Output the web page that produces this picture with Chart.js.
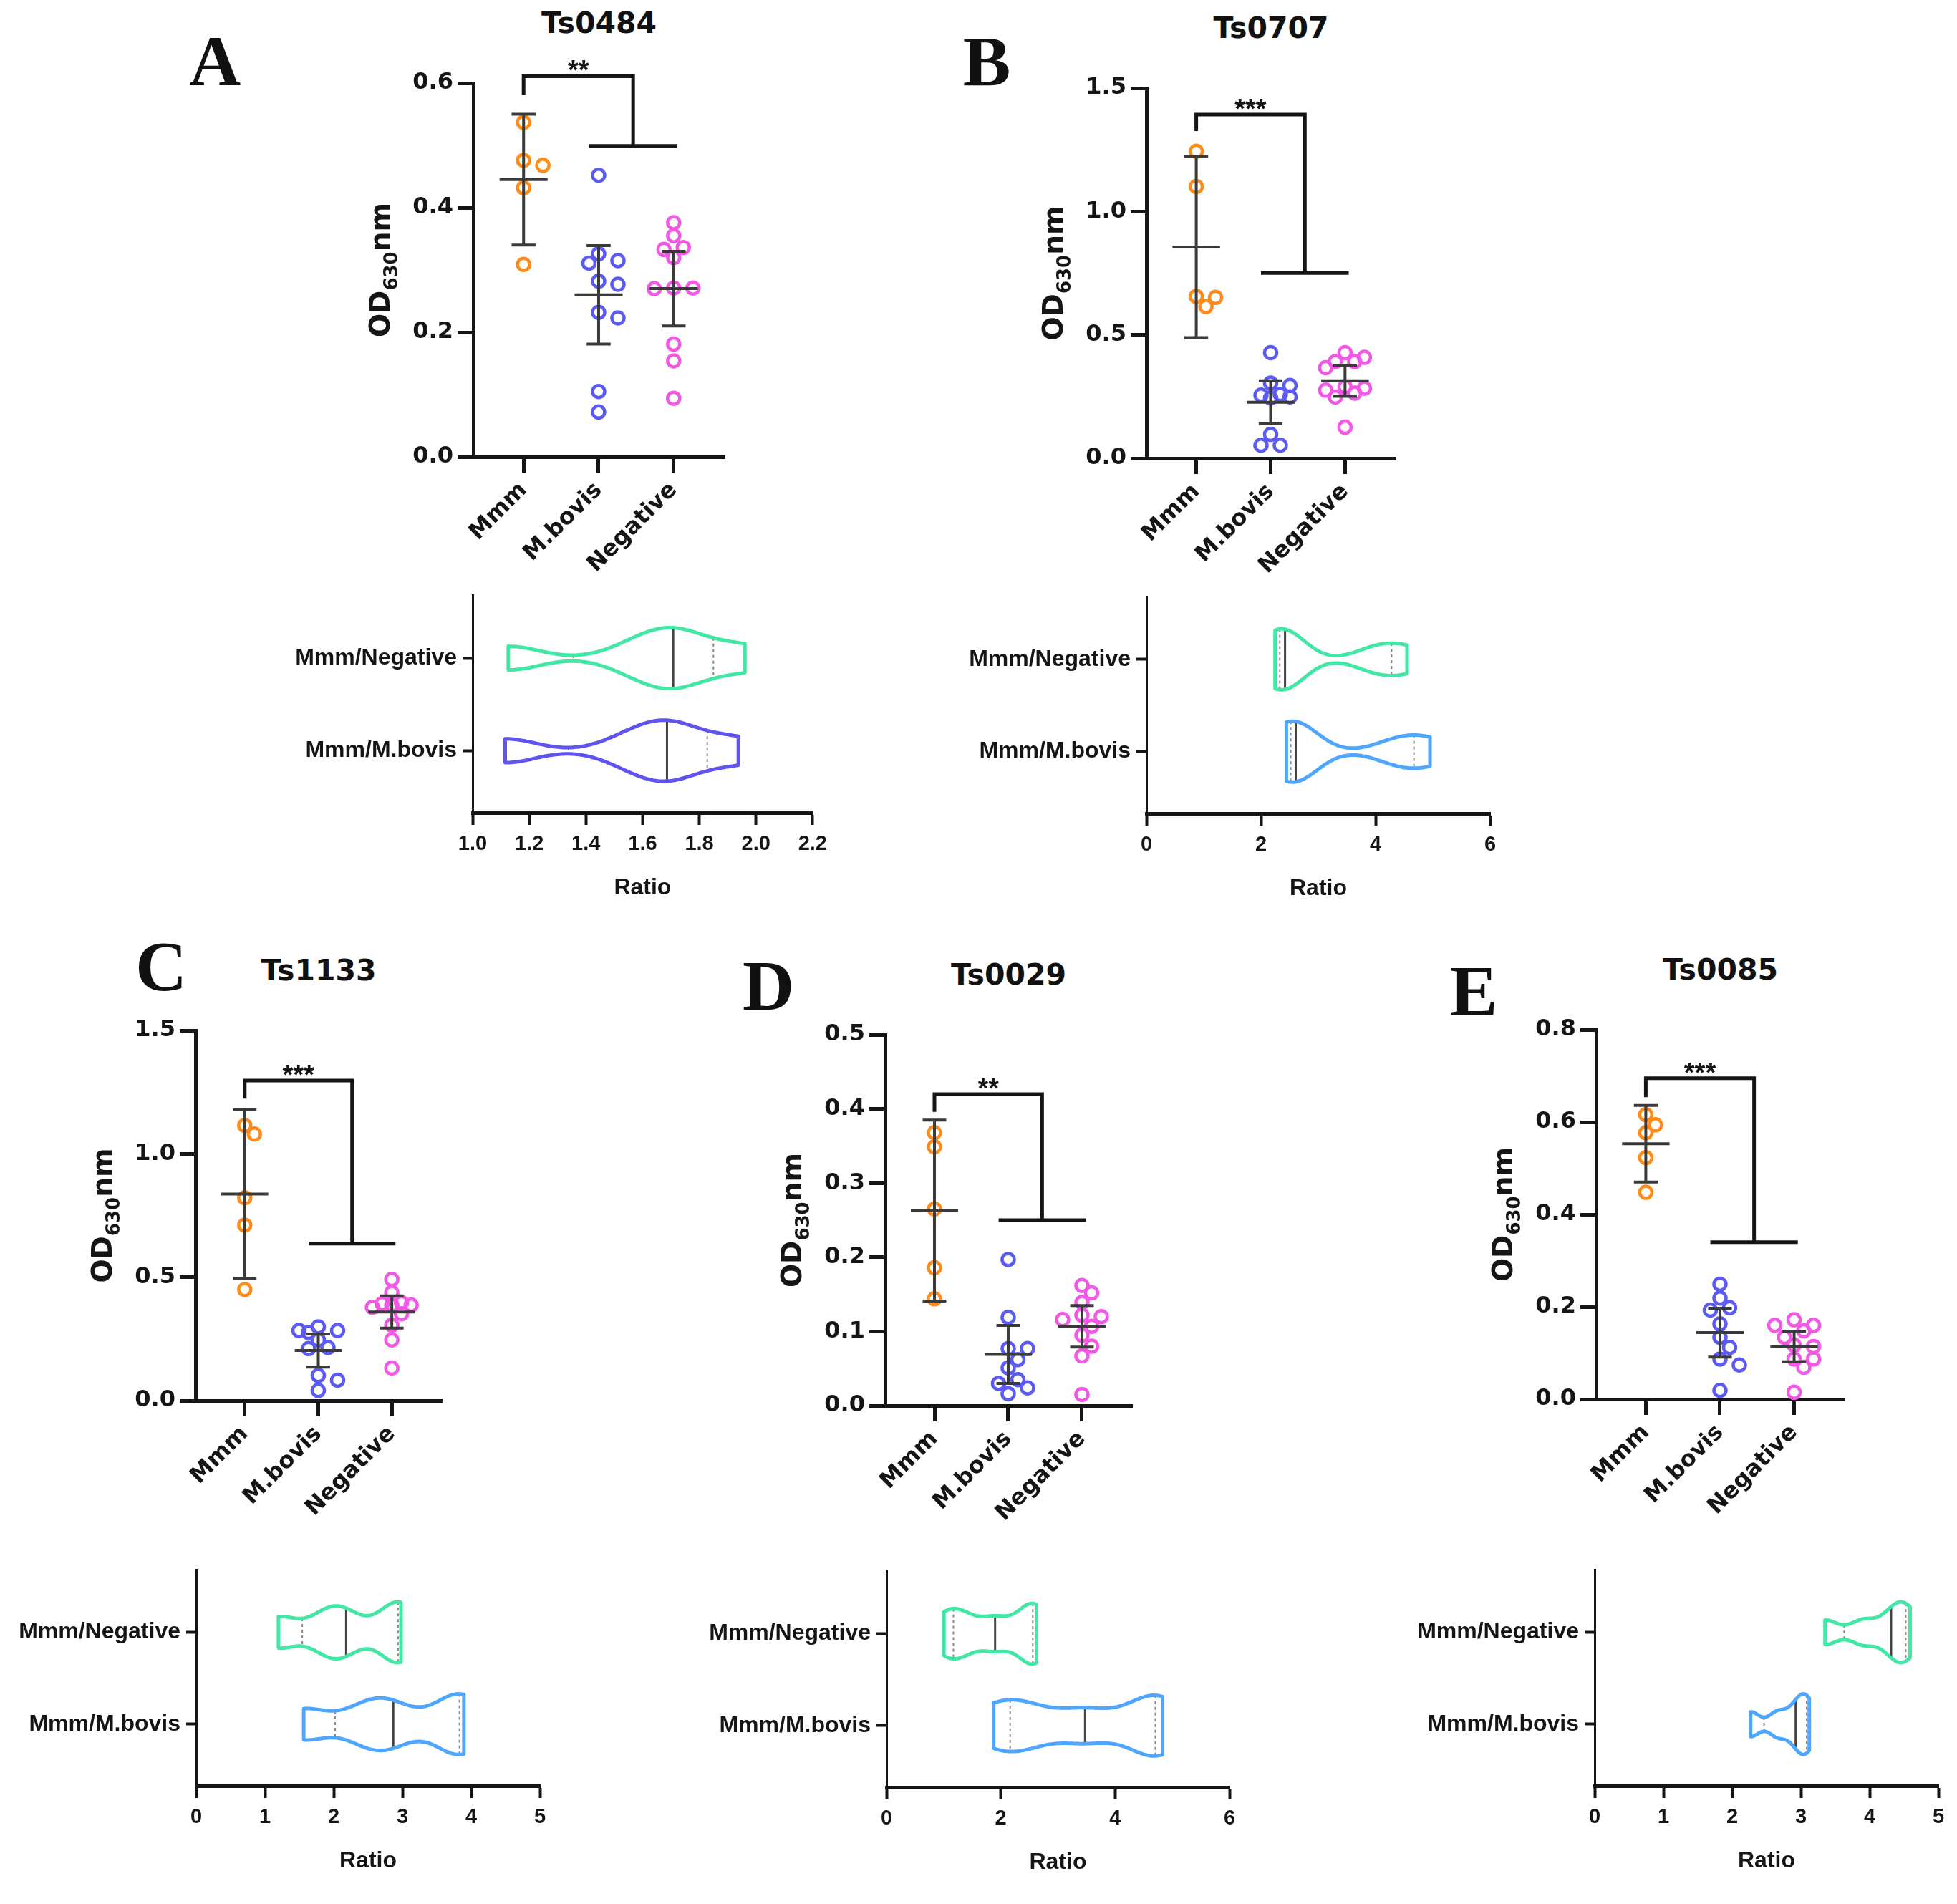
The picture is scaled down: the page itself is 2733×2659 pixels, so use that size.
<!DOCTYPE html>
<html lang="en">
<head>
<meta charset="UTF-8">
<title>OD630nm - Ts0484, Ts0707, Ts1133, Ts0029, Ts0085</title>
<script src="https://cdn.jsdelivr.net/npm/chart.js"></script>
<style>
  html, body { margin: 0; padding: 0; background: #fff; overflow: hidden; }
  body { width: 2733px; height: 2659px; position: relative; }
  canvas { position: absolute; }
  .letter { position: absolute; font-family: "Liberation Serif", "Times New Roman", serif; font-weight: bold;
            font-size: 100px; line-height: 100px; transform: translateX(-50%); color: #111; }
  .title { position: absolute; font-family: "DejaVu Sans", sans-serif; font-weight: bold;
           font-size: 41px; line-height: 41px; transform: translateX(-50%); color: #111; white-space: nowrap; }
</style>
</head>
<body>
<script>
// groups on the dot plots and on the ratio (violin) plots
const groups = ['Mmm', 'M.bovis', 'Negative'];
const ratioLabels = ['Mmm/Negative', 'Mmm/M.bovis'];

// OD630 values
const ts0484_mmm = [0.537, 0.476, 0.468, 0.432, 0.309];
const ts0484_bovis = [0.452, 0.326, 0.315, 0.311, 0.282, 0.277, 0.232, 0.223, 0.105, 0.072];
const ts0484_neg = [0.376, 0.355, 0.336, 0.333, 0.320, 0.271, 0.271, 0.270, 0.181, 0.154, 0.094];
const ts0484_mean = [0.445, 0.260, 0.270];
const ts0484_ci = [0.105, 0.079, 0.060];

const ts0707_mmm = [1.244, 1.101, 0.656, 0.652, 0.615];
const ts0707_bovis = [0.428, 0.305, 0.295, 0.259, 0.256, 0.249, 0.245, 0.097, 0.053, 0.053];
const ts0707_neg = [0.428, 0.409, 0.392, 0.392, 0.367, 0.290, 0.284, 0.276, 0.264, 0.248, 0.126];
const ts0707_mean = [0.856, 0.227, 0.314];
const ts0707_ci = [0.367, 0.087, 0.063];

const ts1133_mmm = [1.115, 1.080, 0.822, 0.711, 0.450];
const ts1133_bovis = [0.299, 0.284, 0.284, 0.276, 0.246, 0.215, 0.211, 0.102, 0.083, 0.041];
const ts1133_neg = [0.491, 0.438, 0.397, 0.393, 0.387, 0.387, 0.378, 0.352, 0.306, 0.246, 0.132];
const ts1133_mean = [0.837, 0.203, 0.359];
const ts1133_ci = [0.342, 0.067, 0.065];

const ts0029_mmm = [0.368, 0.349, 0.265, 0.186, 0.144];
const ts0029_bovis = [0.197, 0.119, 0.077, 0.077, 0.062, 0.051, 0.035, 0.030, 0.024, 0.016];
const ts0029_neg = [0.162, 0.152, 0.139, 0.122, 0.120, 0.116, 0.107, 0.095, 0.080, 0.067, 0.015];
const ts0029_mean = [0.263, 0.069, 0.107];
const ts0029_ci = [0.122, 0.039, 0.028];

const ts0085_mmm = [0.616, 0.594, 0.577, 0.523, 0.448];
const ts0085_bovis = [0.249, 0.219, 0.198, 0.193, 0.163, 0.134, 0.112, 0.087, 0.074, 0.019];
const ts0085_neg = [0.172, 0.160, 0.160, 0.148, 0.134, 0.117, 0.114, 0.087, 0.087, 0.069, 0.015];
const ts0085_mean = [0.553, 0.144, 0.114];
const ts0085_ci = [0.083, 0.053, 0.033];

// significance brackets: [top, end of left leg, lower bar] in OD units
const ts0484_bracket = [0.611, 0.581, 0.499];
const ts0707_bracket = [1.393, 1.326, 0.751];
const ts1133_bracket = [1.297, 1.224, 0.636];
const ts0029_bracket = [0.420, 0.396, 0.250];
const ts0085_bracket = [0.695, 0.654, 0.340];

// ratios behind the violins (Mmm/Negative, Mmm/M.bovis)
const ts0484_rNeg = [1.126, 1.584, 1.708, 1.739, 1.961];
const ts0484_rBovis = [1.115, 1.561, 1.686, 1.718, 1.938];
const ts0707_rNeg = [2.246, 2.41, 2.42, 4.01, 4.55];
const ts0707_rBovis = [2.443, 2.597, 2.606, 4.39, 4.95];
const ts1133_rNeg = [1.197, 1.889, 2.181, 2.893, 2.979];
const ts1133_rBovis = [1.564, 2.478, 2.867, 3.766, 3.894];
const ts0029_rNeg = [1.004, 1.338, 1.90, 2.495, 2.623];
const ts0029_rBovis = [1.875, 2.451, 3.474, 4.576, 4.83];
const ts0085_rNeg = [3.351, 3.907, 4.312, 4.461, 4.589];
const ts0085_rBovis = [2.268, 2.662, 2.924, 3.046, 3.122];

const ink = '#151515';
const wide = '"DejaVu Sans", sans-serif';
const family = '"Liberation Sans", Arial, sans-serif';
const dotColors = ['#ff8c1a', '#5b5bf3', '#f257e6'];
const violinGreen = '#42e6a5';

const panels = [
  { letter: 'A', title: 'Ts0484', pts: [ts0484_mmm, ts0484_bovis, ts0484_neg], mean: ts0484_mean, ci: ts0484_ci,
    ymax: 0.6, ystep: 0.2, sig: '**', bracket: ts0484_bracket, ratios: [ts0484_rNeg, ts0484_rBovis],
    rmin: 1, rmax: 2.2, rstep: 0.2, rdec: 1, bovisColor: '#5f54f0',
    plot: [661, 116, 1012, 638], vplot: [660, 814, 1140, 1135], letterAt: [300, 87] },
  { letter: 'B', title: 'Ts0707', pts: [ts0707_mmm, ts0707_bovis, ts0707_neg], mean: ts0707_mean, ci: ts0707_ci,
    ymax: 1.5, ystep: 0.5, sig: '***', bracket: ts0707_bracket, ratios: [ts0707_rNeg, ts0707_rBovis],
    rmin: 0, rmax: 6, rstep: 2, rdec: 0, bovisColor: '#4ea6ff',
    plot: [1601, 123, 1949, 640], vplot: [1601, 816, 2081, 1136], letterAt: [1378, 87] },
  { letter: 'C', title: 'Ts1133', pts: [ts1133_mmm, ts1133_bovis, ts1133_neg], mean: ts1133_mean, ci: ts1133_ci,
    ymax: 1.5, ystep: 0.5, sig: '***', bracket: ts1133_bracket, ratios: [ts1133_rNeg, ts1133_rBovis],
    rmin: 0, rmax: 5, rstep: 1, rdec: 0, bovisColor: '#4ea6ff',
    plot: [273, 1439, 617, 1956], vplot: [274, 2175, 754, 2494], letterAt: [225, 1351] },
  { letter: 'D', title: 'Ts0029', pts: [ts0029_mmm, ts0029_bovis, ts0029_neg], mean: ts0029_mean, ci: ts0029_ci,
    ymax: 0.5, ystep: 0.1, sig: '**', bracket: ts0029_bracket, ratios: [ts0029_rNeg, ts0029_rBovis],
    rmin: 0, rmax: 6, rstep: 2, rdec: 0, bovisColor: '#4ea6ff',
    plot: [1236, 1445, 1581, 1963], vplot: [1238, 2177, 1717, 2496], letterAt: [1073, 1378] },
  { letter: 'E', title: 'Ts0085', pts: [ts0085_mmm, ts0085_bovis, ts0085_neg], mean: ts0085_mean, ci: ts0085_ci,
    ymax: 0.8, ystep: 0.2, sig: '***', bracket: ts0085_bracket, ratios: [ts0085_rNeg, ts0085_rBovis],
    rmin: 0, rmax: 5, rstep: 1, rdec: 0, bovisColor: '#4ea6ff',
    plot: [2229, 1438, 2576, 1954], vplot: [2227, 2175, 2707, 2494], letterAt: [2058, 1385] }
];

const xMin = -0.67, xMax = 2.68;

function addCanvas(left, top, w, h) {
  const c = document.createElement('canvas');
  c.width = w; c.height = h;
  c.style.left = left + 'px'; c.style.top = top + 'px';
  c.style.width = w + 'px'; c.style.height = h + 'px';
  document.body.appendChild(c);
  return c;
}

function addText(cls, text, x, y) {
  const d = document.createElement('div');
  d.className = cls; d.textContent = text;
  d.style.left = x + 'px'; d.style.top = y + 'px';
  document.body.appendChild(d);
}

// spread overlapping dots sideways (at most two slots each side), like a column scatter
function swarm(vals, cat, pxPerUnit, pxPerCat) {
  const placed = [];
  const step = 13.5 / pxPerCat;
  vals.slice().sort((a, b) => b - a).forEach(v => {
    let best = null, bestGap = -1;
    for (const k of [0, 1, -1, 2, -2]) {
      const xv = cat + k * step;
      const gap = placed.reduce((g, p) => Math.min(g, Math.hypot((p.x - xv) * pxPerCat, (p.y - v) * pxPerUnit)), Infinity);
      if (gap >= 17) { best = xv; break; }
      if (gap > bestGap) { bestGap = gap; best = xv; }
    }
    placed.push({ x: best, y: v });
  });
  return placed;
}

function sd(vals) {
  const m = vals.reduce((s, v) => s + v, 0) / vals.length;
  return Math.sqrt(vals.reduce((s, v) => s + (v - m) ** 2, 0) / (vals.length - 1));
}
function kde(vals, x, h) {
  return vals.reduce((s, v) => s + Math.exp(-0.5 * ((x - v) / h) ** 2), 0);
}
function quant(vals, p) {
  const s = vals.slice().sort((a, b) => a - b);
  const pos = (s.length + 1) * p;
  const lo = Math.floor(pos), f = pos - lo;
  if (lo < 1) return s[0];
  if (lo >= s.length) return s[s.length - 1];
  return s[lo - 1] + f * (s[lo] - s[lo - 1]);
}

function scatterExtras(p) {
  return {
    id: 'extras',
    afterDatasetsDraw(chart) {
      const { ctx, scales: { x, y } } = chart;
      // mean with 95% CI
      ctx.save();
      ctx.strokeStyle = '#3a3a3a';
      ctx.lineWidth = 4;
      p.mean.forEach((m, i) => {
        const cx = x.getPixelForValue(i);
        const hi = y.getPixelForValue(m + p.ci[i]), lo = y.getPixelForValue(m - p.ci[i]);
        const capW = x.getPixelForValue(i + 0.16) - cx, meanW = x.getPixelForValue(i + 0.32) - cx;
        ctx.beginPath();
        ctx.moveTo(cx, hi); ctx.lineTo(cx, lo);
        ctx.moveTo(cx - capW, hi); ctx.lineTo(cx + capW, hi);
        ctx.moveTo(cx - capW, lo); ctx.lineTo(cx + capW, lo);
        ctx.moveTo(cx - meanW, y.getPixelForValue(m)); ctx.lineTo(cx + meanW, y.getPixelForValue(m));
        ctx.stroke();
      });
      ctx.restore();
    },
    afterDraw(chart) {
      const { ctx, chartArea: a, scales: { x, y } } = chart;
      const [top, leg, bar] = p.bracket;
      ctx.save();
      ctx.strokeStyle = ink;
      ctx.lineWidth = 5;
      ctx.beginPath();
      ctx.moveTo(x.getPixelForValue(0), y.getPixelForValue(leg));
      ctx.lineTo(x.getPixelForValue(0), y.getPixelForValue(top));
      ctx.lineTo(x.getPixelForValue(1.46), y.getPixelForValue(top));
      ctx.lineTo(x.getPixelForValue(1.46), y.getPixelForValue(bar));
      ctx.moveTo(x.getPixelForValue(0.87), y.getPixelForValue(bar));
      ctx.lineTo(x.getPixelForValue(2.05), y.getPixelForValue(bar));
      ctx.stroke();
      ctx.fillStyle = ink;
      ctx.font = 'bold 38px ' + family;
      ctx.textAlign = 'center';
      ctx.textBaseline = 'alphabetic';
      ctx.fillText(p.sig, x.getPixelForValue(0.73), y.getPixelForValue(top) + 5);

      // y title OD630nm with subscript
      ctx.translate(a.left - 117, (a.top + a.bottom) / 2);
      ctx.rotate(-Math.PI / 2);
      const big = 'bold 39px ' + wide, small = 'bold 26px ' + wide;
      ctx.font = big;
      const w1 = ctx.measureText('OD').width, w3 = ctx.measureText('nm').width;
      ctx.font = small;
      const w2 = ctx.measureText('630').width;
      const x0 = -(w1 + w2 + w3) / 2;
      ctx.textAlign = 'left';
      ctx.font = big; ctx.fillText('OD', x0, 0);
      ctx.font = small; ctx.fillText('630', x0 + w1, 11);
      ctx.font = big; ctx.fillText('nm', x0 + w1 + w2, 0);
      ctx.restore();
    }
  };
}

const violinPlugin = {
  id: 'violin',
  afterDatasetsDraw(chart) {
    const { ctx, scales: { x, y } } = chart;
    chart.data.datasets.forEach((ds, i) => {
      const vals = ds.data.map(d => d.x);
      const lo = Math.min(...vals), hi = Math.max(...vals);
      const h = 0.36 * sd(vals);
      const n = 120, half = 0.33;
      const xs = [], ws = [];
      for (let k = 0; k <= n; k++) {
        const v = lo + (hi - lo) * k / n;
        xs.push(v); ws.push(kde(vals, v, h));
      }
      const wmax = Math.max(...ws);
      const wAt = v => half * kde(vals, v, h) / wmax;
      ctx.save();
      // quartiles dotted, median solid
      const seg = (v, dash, color, lw) => {
        ctx.beginPath();
        ctx.setLineDash(dash);
        ctx.strokeStyle = color; ctx.lineWidth = lw;
        ctx.moveTo(x.getPixelForValue(v), y.getPixelForValue(i - wAt(v)));
        ctx.lineTo(x.getPixelForValue(v), y.getPixelForValue(i + wAt(v)));
        ctx.stroke();
      };
      seg(quant(vals, 0.25), [4, 4], '#888', 2);
      seg(quant(vals, 0.75), [4, 4], '#888', 2);
      seg(quant(vals, 0.5), [], '#444', 3);
      ctx.setLineDash([]);
      ctx.beginPath();
      xs.forEach((v, k) => {
        const px = x.getPixelForValue(v), py = y.getPixelForValue(i - half * ws[k] / wmax);
        if (k) ctx.lineTo(px, py); else ctx.moveTo(px, py);
      });
      for (let k = n; k >= 0; k--) {
        ctx.lineTo(x.getPixelForValue(xs[k]), y.getPixelForValue(i + half * ws[k] / wmax));
      }
      ctx.closePath();
      ctx.lineWidth = 5;
      ctx.lineJoin = 'round';
      ctx.strokeStyle = ds.borderColor;
      ctx.stroke();
      ctx.restore();
    });
  }
};

function axisFont(f, size) { return { family: f, size: size, weight: 'bold' }; }

function makeScatter(p) {
  const [L, T, R, B] = p.plot;
  const padL = 160, padT = 70, padR = 30, padB = 170;
  const cv = addCanvas(L - padL, T - padT, R - L + padL + padR, B - T + padT + padB);
  const pxPerUnit = (B - T) / p.ymax, pxPerCat = (R - L) / (xMax - xMin);
  new Chart(cv, {
    type: 'scatter',
    data: {
      datasets: p.pts.map((vals, i) => ({
        data: swarm(vals, i, pxPerUnit, pxPerCat),
        pointRadius: 8.5, pointHoverRadius: 8.5, pointBorderWidth: 4.5,
        pointBackgroundColor: 'rgba(0,0,0,0)', pointBorderColor: dotColors[i],
        clip: false
      }))
    },
    options: {
      responsive: false, animation: false, devicePixelRatio: 1, events: [],
      layout: { padding: { top: padT, right: padR, left: 0, bottom: 0 } },
      plugins: { legend: { display: false }, tooltip: { enabled: false } },
      scales: {
        x: {
          type: 'linear', min: xMin, max: xMax,
          afterBuildTicks: s => { s.ticks = groups.map((g, i) => ({ value: i })); },
          afterFit: s => { s.height = padB; },
          ticks: { callback: v => groups[v], autoSkip: false, maxRotation: 45, minRotation: 45,
                   padding: 6, color: ink, font: axisFont(wide, 32) },
          grid: { drawOnChartArea: false, drawTicks: true, tickLength: 22, tickWidth: 5, tickColor: ink },
          border: { display: true, width: 5, color: ink }
        },
        y: {
          min: 0, max: p.ymax,
          afterFit: s => { s.width = padL; },
          ticks: { stepSize: p.ystep, callback: v => v.toFixed(1), padding: 6, color: ink, font: axisFont(wide, 32) },
          grid: { drawOnChartArea: false, drawTicks: true, tickLength: 22, tickWidth: 5, tickColor: ink },
          border: { display: true, width: 5, color: ink }
        }
      }
    },
    plugins: [scatterExtras(p)]
  });
}

function makeViolin(p) {
  const [L, T, R, B] = p.vplot;
  const padL = 270, padT = 10, padR = 25, padB = 124;
  const cv = addCanvas(L - padL, T - padT, R - L + padL + padR, B - T + padT + padB);
  const colors = [violinGreen, p.bovisColor];
  new Chart(cv, {
    type: 'scatter',
    data: {
      datasets: p.ratios.map((vals, i) => ({
        data: vals.map(v => ({ x: v, y: i })),
        pointRadius: 0, pointHoverRadius: 0, borderColor: colors[i]
      }))
    },
    options: {
      responsive: false, animation: false, devicePixelRatio: 1, events: [],
      layout: { padding: { top: padT, right: padR, left: 0, bottom: 0 } },
      plugins: { legend: { display: false }, tooltip: { enabled: false } },
      scales: {
        x: {
          type: 'linear', min: p.rmin, max: p.rmax,
          afterFit: s => { s.height = padB; },
          ticks: { stepSize: p.rstep, callback: v => v.toFixed(p.rdec), padding: 10, color: ink, font: axisFont(family, 29) },
          grid: { drawOnChartArea: false, drawTicks: true, tickLength: 17, tickWidth: 4, tickColor: ink },
          border: { display: true, width: 5, color: ink },
          title: { display: true, text: 'Ratio', color: ink, font: axisFont(family, 32), padding: 0 }
        },
        y: {
          type: 'linear', min: -0.68, max: 1.67, reverse: true,
          afterBuildTicks: s => { s.ticks = ratioLabels.map((t, i) => ({ value: i })); },
          afterFit: s => { s.width = padL; },
          ticks: { callback: v => ratioLabels[v], autoSkip: false, padding: 8, color: ink, font: axisFont(family, 32) },
          grid: { drawOnChartArea: false, drawTicks: true, tickLength: 14, tickWidth: 4, tickColor: ink },
          border: { display: true, width: 3, color: ink }
        }
      }
    },
    plugins: [violinPlugin]
  });
}

panels.forEach(p => {
  const [L, T, R] = p.plot;
  addText('letter', p.letter, p.letterAt[0], p.letterAt[1] - 51);
  addText('title', p.title, (L + R) / 2, T - 84 - 20);
  makeScatter(p);
  makeViolin(p);
});
</script>
</body>
</html>
